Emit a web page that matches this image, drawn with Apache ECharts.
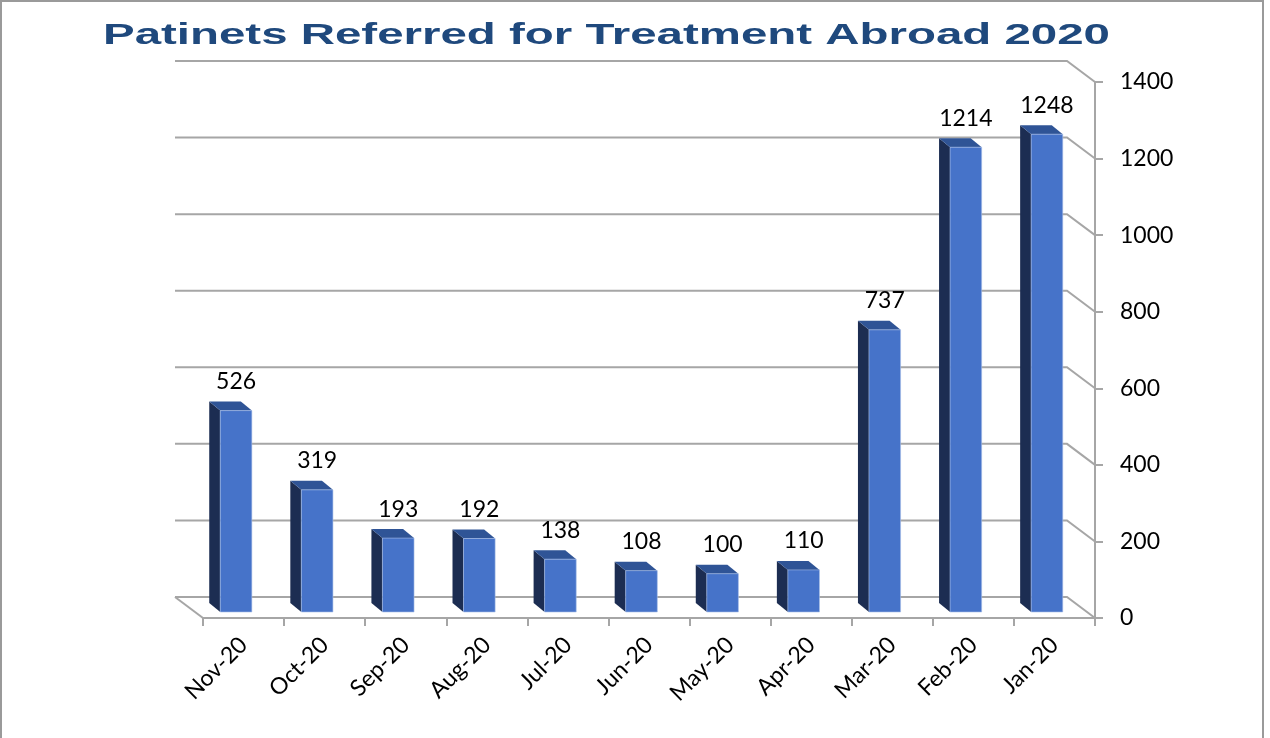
<!DOCTYPE html>
<html>
<head>
<meta charset="utf-8">
<script src="https://cdn.jsdelivr.net/npm/echarts@6/dist/echarts.min.js"></script>
<style>
  html, body { margin: 0; padding: 0; background: #fff; }
  #chart { width: 1270px; height: 738px; }
</style>
</head>
<body>
<div id="chart"></div>
<script>
var titleText = 'Patinets Referred for Treatment Abroad 2020';
var months = ['Nov-20', 'Oct-20', 'Sep-20', 'Aug-20', 'Jul-20', 'Jun-20', 'May-20', 'Apr-20', 'Mar-20', 'Feb-20', 'Jan-20'];
var patients = [526, 319, 193, 192, 138, 108, 100, 110, 737, 1214, 1248];
var gridValues = [0, 200, 400, 600, 800, 1000, 1200, 1400];

var chartDom = document.getElementById('chart');
var myChart = echarts.init(chartDom);

// stretch the title the way the picture has it
var ctx = document.createElement('canvas').getContext('2d');
var titleFont = 'bold 29px "Liberation Sans"';
ctx.font = titleFont;
var titleScale = 1007 / ctx.measureText(titleText).width;

// 3d offsets (px)
var wallDx = -28, wallDy = -21;
var barDx = -7.5, barDy = -6;
var depthDx = -11, depthDy = -9;

function renderWall(params, api) {
  var cs = params.coordSys;
  var y = api.coord([0, api.value(1)])[1];
  var lineStyle = { stroke: '#A6A6A6', lineWidth: 2, fill: null };
  var children = [{
    type: 'polyline',
    shape: { points: [[cs.x + wallDx, y + wallDy], [cs.x + cs.width + wallDx, y + wallDy], [cs.x + cs.width, y]] },
    style: lineStyle
  }];
  if (api.value(1) === 0) {
    children.push({
      type: 'line',
      shape: { x1: cs.x + wallDx, y1: y + wallDy, x2: cs.x, y2: y },
      style: lineStyle
    });
  }
  return { type: 'group', children: children };
}

function renderBar(params, api) {
  var v = api.value(1);
  var base = api.coord([api.value(0), 0]);
  var top = api.coord([api.value(0), v]);
  var w = api.size([1, 0])[0] * 0.39;
  var cx = base[0] + barDx;
  var x0 = cx - w / 2, x1 = cx + w / 2;
  var yb = base[1] + barDy, yt = top[1] + barDy;
  return {
    type: 'group',
    children: [
      {
        type: 'polygon',
        shape: { points: [[x0, yt], [x0 + depthDx, yt + depthDy], [x0 + depthDx, yb + depthDy], [x0, yb]] },
        style: { fill: '#1C2D52' }
      },
      {
        type: 'polygon',
        shape: { points: [[x0, yt], [x1, yt], [x1 + depthDx, yt + depthDy], [x0 + depthDx, yt + depthDy]] },
        style: { fill: '#2F5496' }
      },
      {
        type: 'rect',
        shape: { x: x0, y: yt, width: w, height: yb - yt },
        style: { fill: '#4673C9', stroke: '#A9C0E8', lineWidth: 0.6 }
      },
      {
        type: 'text',
        style: {
          text: String(v), x: cx, y: yt - 29,
          font: '23px Lato', fill: '#000', align: 'center', verticalAlign: 'middle'
        }
      }
    ]
  };
}

var option = {
  animation: false,
  backgroundColor: '#fff',
  graphic: [
    {
      type: 'rect',
      shape: { x: 1, y: 1, width: 1262, height: 800 },
      style: { fill: null, stroke: '#9A9A9A', lineWidth: 2 },
      silent: true
    },
    {
      type: 'text',
      x: 103,
      y: 21,
      scaleX: titleScale,
      style: { text: titleText, font: titleFont, fill: '#1F497D', verticalAlign: 'top' }
    }
  ],
  grid: {
    left: 203,
    right: 175,
    top: 82,
    bottom: 120
  },
  xAxis: {
    type: 'category',
    data: months,
    boundaryGap: true,
    axisLine: { show: true, lineStyle: { color: '#A6A6A6', width: 2 } },
    axisTick: { show: true, length: 8, lineStyle: { color: '#A6A6A6', width: 2 } },
    axisLabel: { rotate: 45, margin: 23, fontSize: 23, fontFamily: 'Lato', color: '#000' },
    splitLine: { show: false }
  },
  yAxis: {
    type: 'value',
    position: 'right',
    min: 0,
    max: 1400,
    interval: 200,
    axisLine: { show: true, lineStyle: { color: '#A6A6A6', width: 2 } },
    axisTick: { show: true, length: 8, lineStyle: { color: '#A6A6A6', width: 2 } },
    axisLabel: {
      margin: 25, fontSize: 23, fontFamily: 'Lato', color: '#000',
      formatter: function (v) { return String(v); }
    },
    splitLine: { show: false }
  },
  series: [
    {
      type: 'custom',
      z: 1,
      clip: false,
      renderItem: renderWall,
      data: gridValues.map(function (v) { return [0, v]; })
    },
    {
      type: 'custom',
      z: 2,
      clip: false,
      renderItem: renderBar,
      data: patients.map(function (v, i) { return [i, v]; })
    }
  ]
};

myChart.setOption(option);
</script>
</body>
</html>
